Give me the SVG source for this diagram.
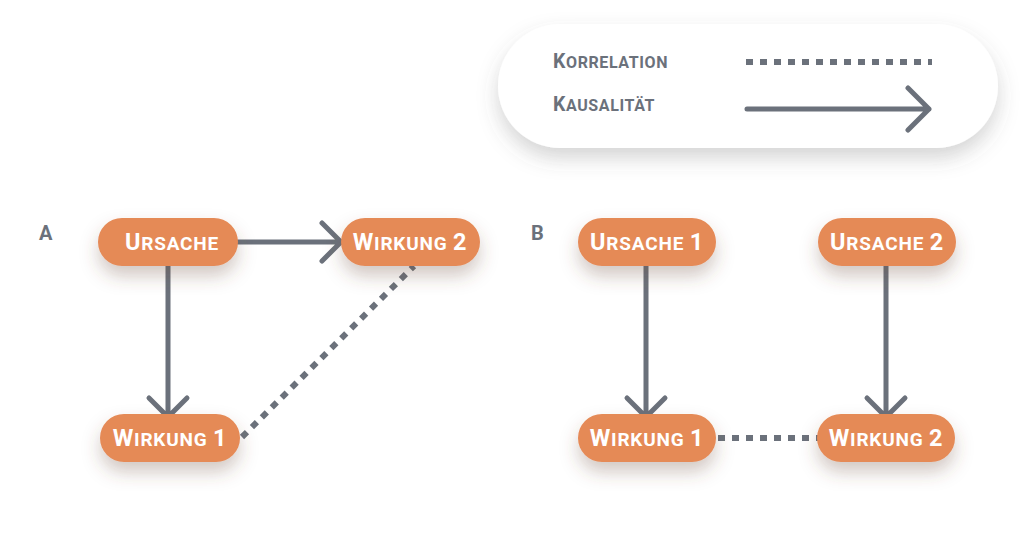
<svg xmlns="http://www.w3.org/2000/svg" width="1032" height="550" viewBox="0 0 1032 550">
<defs>
<filter id="sh" x="-30%" y="-40%" width="160%" height="200%">
<feDropShadow dx="0" dy="10" stdDeviation="9" flood-color="#6b4a3a" flood-opacity="0.3"/>
</filter>
<filter id="shl" x="-20%" y="-40%" width="140%" height="200%">
<feDropShadow dx="0" dy="10" stdDeviation="10" flood-color="#555" flood-opacity="0.25"/>
</filter>
</defs>
<style>
.node{fill:#E58A57;filter:url(#sh)}
.nt{font-family:Roboto,"Liberation Sans",sans-serif;font-weight:bold;fill:#fff;text-anchor:middle;font-size:19px;letter-spacing:0.8px}
.big{font-size:23.5px}
.lt{font-family:Roboto,"Liberation Sans",sans-serif;font-weight:bold;fill:#6B717B;font-size:16px;letter-spacing:0.6px}
.lbig{font-size:19.5px}
.lab{font-family:Roboto,"Liberation Sans",sans-serif;font-weight:bold;fill:#6B717B;font-size:20px}
.arr{stroke:#6B717B;stroke-width:5;fill:none;stroke-linecap:round;stroke-linejoin:round}
.dot{stroke:#6B717B;stroke-width:6;fill:none;stroke-dasharray:7 7}
</style>
<rect width="1032" height="550" fill="#fff"/>
<g id="legend">
<rect x="498" y="24" width="500" height="124" rx="62" fill="#fff" filter="url(#shl)"/>
<text class="lt" x="553" y="68"><tspan class="lbig">K</tspan>ORRELATION</text>
<text class="lt" x="553" y="111"><tspan class="lbig">K</tspan>AUSALITÄT</text>
<line class="dot" x1="746" y1="62" x2="932" y2="62"/>
<path class="arr" d="M747 109 H929 M908 88 L929 109 L908 130"/>
</g>
<text class="lab" x="39" y="240">A</text>
<text class="lab" x="531" y="240">B</text>
<g id="connectors">
<path class="arr" d="M238 242 H341 M322 223 L341 242 L322 261"/>
<path class="arr" d="M168 266 V417 M149 398 L168 417 L187 398"/>
<line class="dot" x1="242" y1="437" x2="414" y2="266"/>
<path class="arr" d="M646 266 V417 M627 398 L646 417 L665 398"/>
<path class="arr" d="M886 266 V417 M867 398 L886 417 L905 398"/>
<line class="dot" x1="718" y1="438" x2="818" y2="438"/>
</g>
<g id="a-ursache">
<rect class="node" x="98" y="218" width="140" height="48" rx="24"/>
<text class="nt" x="172" y="250"><tspan class="big">U</tspan>RSACHE</text>
</g>
<g id="a-wirkung2">
<rect class="node" x="341" y="218" width="139" height="48" rx="24"/>
<text class="nt" x="410" y="250"><tspan class="big">W</tspan>IRKUNG <tspan class="big">2</tspan></text>
</g>
<g id="a-wirkung1">
<rect class="node" x="100" y="414" width="140" height="48" rx="24"/>
<text class="nt" x="170" y="446"><tspan class="big">W</tspan>IRKUNG <tspan class="big">1</tspan></text>
</g>
<g id="b-ursache1">
<rect class="node" x="578" y="218" width="138" height="48" rx="24"/>
<text class="nt" x="647" y="250"><tspan class="big">U</tspan>RSACHE <tspan class="big">1</tspan></text>
</g>
<g id="b-ursache2">
<rect class="node" x="818" y="218" width="138" height="48" rx="24"/>
<text class="nt" x="887" y="250"><tspan class="big">U</tspan>RSACHE <tspan class="big">2</tspan></text>
</g>
<g id="b-wirkung1">
<rect class="node" x="578" y="414" width="138" height="48" rx="24"/>
<text class="nt" x="647" y="446"><tspan class="big">W</tspan>IRKUNG <tspan class="big">1</tspan></text>
</g>
<g id="b-wirkung2">
<rect class="node" x="817" y="414" width="138" height="48" rx="24"/>
<text class="nt" x="886" y="446"><tspan class="big">W</tspan>IRKUNG <tspan class="big">2</tspan></text>
</g>
</svg>
